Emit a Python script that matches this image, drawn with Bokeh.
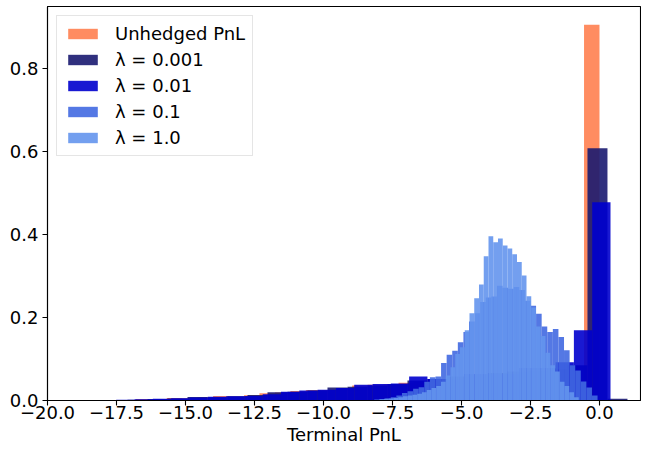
import numpy as np
from bokeh.plotting import figure
from bokeh.models import Range1d, FixedTicker, Legend, LegendItem, ColumnDataSource
from bokeh.embed import file_html
from bokeh.resources import INLINE

# ---------------- data ----------------
series_labels = ["Unhedged PnL", "λ = 0.001", "λ = 0.01", "λ = 0.1", "λ = 1.0"]

# histogram: first bin edge, bin width, densities left->right
unhedged_start = -16.80
unhedged_width = 0.56
unhedged_density = [0.0035, 0.0035, 0.006, 0.0055, 0.008, 0.011, 0.0095, 0.0125,
                    0.0173, 0.019, 0.0229, 0.0255, 0.025, 0.030, 0.036, 0.038,
                    0.039, 0.043, 0.045, 0.047, 0.048, 0.050, 0.050, 0.050,
                    0.050, 0.050, 0.050, 0.050, 0.050, 0.904]

lam0001_start = -19.275
lam0001_width = 0.7246
lam0001_density = [0.0005, 0.0008, 0.001, 0.002, 0.0038, 0.005, 0.0084, 0.008,
                   0.010, 0.0133, 0.020, 0.021, 0.024, 0.031, 0.033, 0.036,
                   0.040, 0.048, 0.052, 0.058, 0.063, 0.066, 0.070, 0.072,
                   0.075, 0.085, 0.607, 0.004]

lam001_start = -19.50
lam001_width = 0.6633
lam001_density = [0.0005, 0.0008, 0.001, 0.002, 0.003, 0.004, 0.0055, 0.007,
                  0.009, 0.010, 0.011, 0.015, 0.021, 0.024, 0.026, 0.030,
                  0.038, 0.040, 0.041, 0.058, 0.052, 0.050, 0.064, 0.064,
                  0.064, 0.078, 0.078, 0.092, 0.169, 0.477]

lam01_start = -8.170
lam01_width = 0.2025
lam01_density = [0.002, 0.003, 0.005, 0.008, 0.012, 0.018, 0.022, 0.028,
                 0.032, 0.045, 0.056, 0.058, 0.090, 0.110, 0.120, 0.140,
                 0.165, 0.190, 0.210, 0.237, 0.248, 0.250, 0.276, 0.271,
                 0.269, 0.273, 0.266, 0.240, 0.228, 0.209, 0.178, 0.165,
                 0.172, 0.153, 0.121, 0.085, 0.072, 0.046, 0.031, 0.012]

lam1_start = -8.152
lam1_width = 0.1721
lam1_density = [0.002, 0.003, 0.004, 0.005, 0.006, 0.008, 0.010, 0.012,
                0.014, 0.016, 0.020, 0.025, 0.030, 0.035, 0.045, 0.060,
                0.080, 0.112, 0.128, 0.169, 0.210, 0.246, 0.279, 0.347,
                0.395, 0.381, 0.390, 0.373, 0.366, 0.352, 0.333, 0.301,
                0.251, 0.224, 0.178, 0.155, 0.115, 0.085, 0.070, 0.045,
                0.035, 0.020, 0.008]

x_ticks = [-20.0, -17.5, -15.0, -12.5, -10.0, -7.5, -5.0, -2.5, 0.0]
x_tick_labels = ["−20.0", "−17.5", "−15.0", "−12.5", "−10.0", "−7.5", "−5.0", "−2.5", "0.0"]
y_ticks = [0.0, 0.2, 0.4, 0.6, 0.8]
y_tick_labels = ["0.0", "0.2", "0.4", "0.6", "0.8"]
x_label = "Terminal PnL"

# ---------------- styles ----------------
colors = ["coral", "midnightblue", "mediumblue", "royalblue", "cornflowerblue"]
FONT = "DejaVu Sans"
FS = "18px"

p = figure(width=641, height=447,
           x_range=Range1d(-20, 1.486), y_range=Range1d(0, 0.948),
           output_backend="svg", toolbar_location=None,
           min_border_left=47, min_border_right=1, min_border_top=6,
           min_border_bottom=47)
p.background_fill_color = "white"
p.border_fill_color = "white"
p.outline_line_color = "black"
p.outline_line_width = 1.1
p.xgrid.visible = False
p.ygrid.visible = False

hists = [(unhedged_start, unhedged_width, unhedged_density),
         (lam0001_start, lam0001_width, lam0001_density),
         (lam001_start, lam001_width, lam001_density),
         (lam01_start, lam01_width, lam01_density),
         (lam1_start, lam1_width, lam1_density)]

items = []
for (start, width, dens), col, lab in zip(hists, colors, series_labels):
    n = len(dens)
    left = start + width * np.arange(n)
    src = ColumnDataSource(dict(left=left, right=left + width,
                                top=np.array(dens), bottom=np.zeros(n)))
    r = p.quad(left="left", right="right", top="top", bottom="bottom", source=src,
               fill_color=col, fill_alpha=0.9, line_color=None)
    items.append(LegendItem(label=lab, renderers=[r]))

for ax in (p.xaxis[0], p.yaxis[0]):
    ax.axis_line_color = "black"
    ax.axis_line_width = 1.1
    ax.major_tick_line_color = "black"
    ax.major_tick_line_width = 1.1
    ax.major_tick_out = 5
    ax.major_tick_in = 0
    ax.minor_tick_line_color = None
    ax.major_label_text_font = FONT
    ax.major_label_text_font_size = FS
    ax.major_label_text_color = "black"

p.xaxis.ticker = FixedTicker(ticks=x_ticks)
p.xaxis.major_label_overrides = {t: l for t, l in zip(x_ticks, x_tick_labels)}
p.xaxis.major_label_standoff = 0
p.xaxis.axis_label = x_label
p.xaxis.axis_label_text_font = FONT
p.xaxis.axis_label_text_font_size = FS
p.xaxis.axis_label_text_font_style = "normal"
p.xaxis.axis_label_text_color = "black"
p.xaxis.axis_label_standoff = 2

p.yaxis.ticker = FixedTicker(ticks=y_ticks)
p.yaxis.major_label_overrides = {t: l for t, l in zip(y_ticks, y_tick_labels)}
p.yaxis.major_label_standoff = 4

legend = Legend(items=items, location="top_left")
legend.margin = 9
legend.padding = 7
legend.spacing = 5
legend.glyph_width = 37
legend.glyph_height = 13
legend.label_height = 21
legend.label_standoff = 14
legend.label_text_font = FONT
legend.label_text_font_size = FS
legend.label_text_color = "black"
legend.border_line_color = "#cccccc"
legend.border_line_width = 1
legend.background_fill_color = "white"
legend.background_fill_alpha = 0.8
p.add_layout(legend)

open("out.html", "w").write(file_html(p, INLINE))
